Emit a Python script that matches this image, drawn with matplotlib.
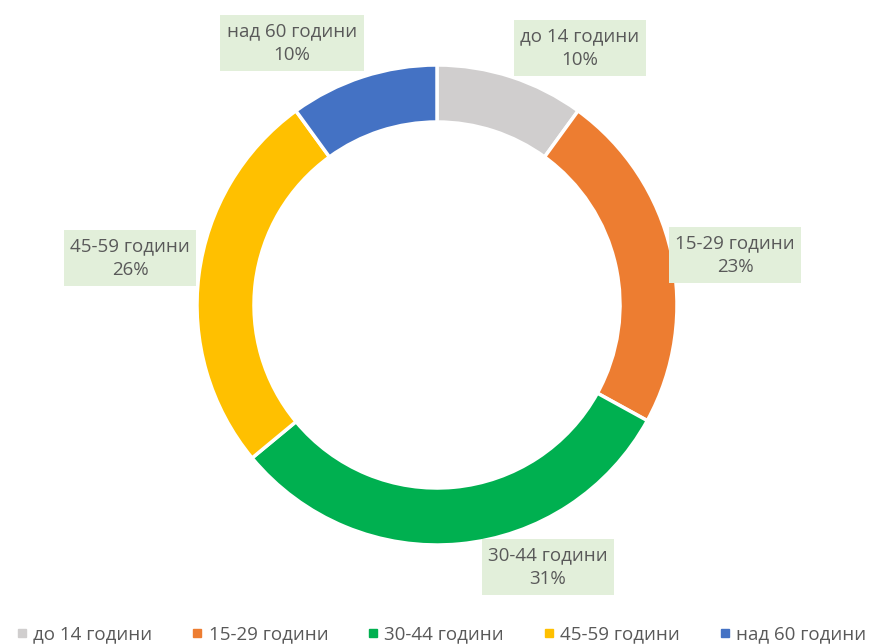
import numpy as np
import matplotlib
matplotlib.use('Agg')
import matplotlib.pyplot as plt
from matplotlib.lines import Line2D

plt.rcParams['font.family'] = ['Open Sans', 'DejaVu Sans']

# данни
categories = ['до 14 години', '15-29 години', '30-44 години', '45-59 години', 'над 60 години']
shares = [10, 23, 31, 26, 10]
colors = ['#d0cece', '#ed7d31', '#00b050', '#ffc000', '#4472c4']
# позиции на етикетите (пиксели, горе-ляво = 0,0)
label_pos = [(580, 48), (735, 255), (548, 567), (130, 258), (292, 43)]

W, H = 881, 644
fig = plt.figure(figsize=(W / 100, H / 100), dpi=100, facecolor='white')
ax = fig.add_axes([0, 0, 1, 1])

cx, cy, r = 437, H - 305, 240
ax.pie(shares, colors=colors, startangle=90, counterclock=False,
       center=(cx, cy), radius=r,
       wedgeprops={'width': 57, 'edgecolor': 'white', 'linewidth': 2.5})

ax.set_xlim(0, W)
ax.set_ylim(0, H)
ax.set_aspect('equal')
ax.axis('off')

txt_col = '#595959'
for name, val, (px, py) in zip(categories, shares, label_pos):
    ax.text(px, H - py, '%s\n%d%%' % (name, val), ha='center', va='center',
            fontsize=13.5, color=txt_col, linespacing=1.45,
            bbox=dict(boxstyle='square,pad=0.35', facecolor='#e2efda', edgecolor='none'))

# легенда
handles = [Line2D([], [], marker='s', ls='none', markersize=6, color=c) for c in colors]
ax.legend(handles, categories, loc='lower center', bbox_to_anchor=(0.5, -0.025), ncol=5,
          frameon=False, fontsize=13.5, labelcolor=txt_col, handletextpad=0.2,
          columnspacing=2.0, handlelength=0.8)

fig.savefig('out.png', dpi=100, facecolor='white')
